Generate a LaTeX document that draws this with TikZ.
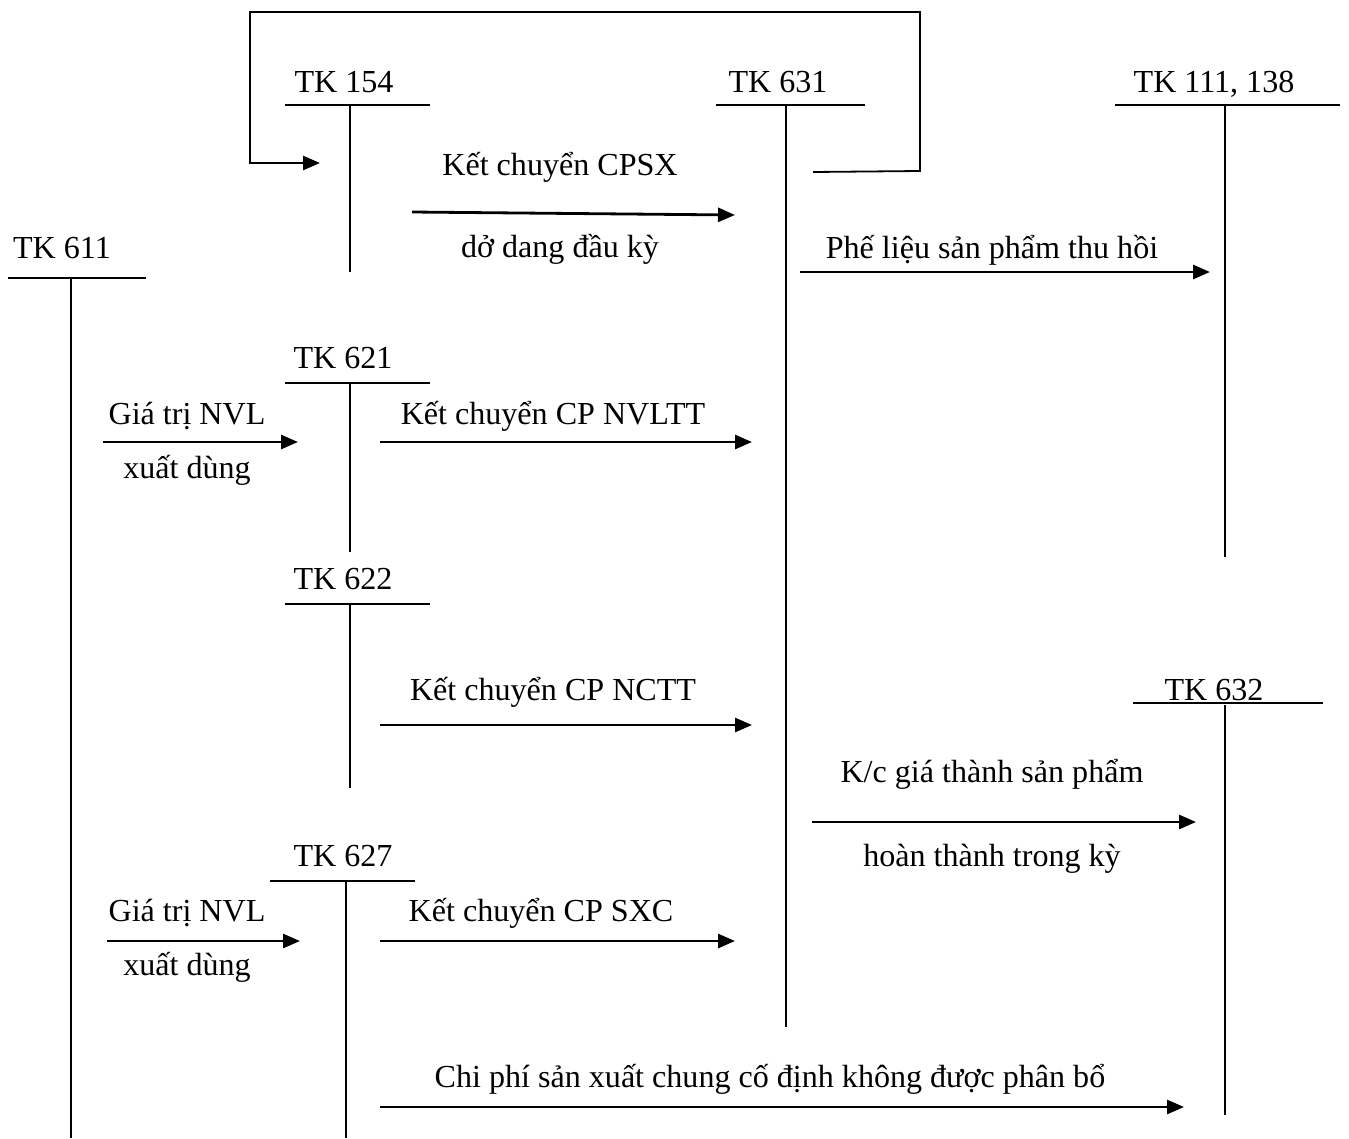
\documentclass[tikz,border=0pt]{standalone}
\usepackage{fontspec}
\setmainfont{Liberation Serif}
\usetikzlibrary{arrows.meta}
\tikzset{
  lbl/.style={anchor=base, inner sep=0pt, font=\fontsize{32.2}{38}\selectfont},
  tline/.style={line width=1.8bp},
  flow/.style={line width=2.8bp, -{Triangle[length=17bp,width=14bp]}},
}
\begin{document}
\begin{tikzpicture}[x=1bp,y=-1bp]
\useasboundingbox (0,0) rectangle (1349,1138);
% account titles
\node[lbl] (t154) at (344,92) {TK 154};
\node[lbl] (t631) at (778,92) {TK 631};
\node[lbl] (t111) at (1214,92) {TK 111, 138};
\node[lbl] (t611) at (62,258) {TK 611};
\node[lbl] (t621) at (343,368) {TK 621};
\node[lbl] (t622) at (343,589) {TK 622};
\node[lbl] (t632) at (1214,700) {TK 632};
\node[lbl] (t627) at (343,866) {TK 627};
% T-accounts
\draw[tline] (285,105) -- (430,105) (350,105) -- (350,272);
\draw[tline] (716,105) -- (865,105) (786,105) -- (786,1027);
\draw[tline] (1115,105) -- (1340,105) (1225,105) -- (1225,557);
\draw[tline] (8,278) -- (146,278) (71,278) -- (71,1138);
\draw[tline] (285,383) -- (430,383) (350,383) -- (350,552);
\draw[tline] (285,604) -- (430,604) (350,604) -- (350,788);
\draw[tline] (270,881) -- (415,881) (346,881) -- (346,1138);
\draw[tline] (1133,703) -- (1323,703) (1225,705) -- (1225,1115);
% loop from 631 back to 154
\coordinate (lpA) at (813,172);
\coordinate (lpB) at (320,163);
\draw[tline] (lpA) -- (920,171) -- (920,12) -- (250,12) -- (250,163);
\draw[flow] (249.1,163) -- (lpB);
% flows
\coordinate (a1s) at (412,212); \coordinate (a1e) at (735,215);
\draw[flow] (a1s) -- (a1e);
\node[lbl] (l1a) at (560,175) {Kết chuyển CPSX};
\node[lbl] (l1b) at (560,257) {dở dang đầu kỳ};

\coordinate (a2s) at (800,272); \coordinate (a2e) at (1210,272);
\draw[flow] (a2s) -- (a2e);
\node[lbl] (l2) at (992,258) {Phế liệu sản phẩm thu hồi};

\coordinate (a3s) at (103,442); \coordinate (a3e) at (298,442);
\draw[flow] (a3s) -- (a3e);
\node[lbl] (l3a) at (187,424) {Giá trị NVL};
\node[lbl] (l3b) at (187,478) {xuất dùng};

\coordinate (a4s) at (380,442); \coordinate (a4e) at (752,442);
\draw[flow] (a4s) -- (a4e);
\node[lbl] (l4) at (553,424) {Kết chuyển CP NVLTT};

\coordinate (a5s) at (380,725); \coordinate (a5e) at (752,725);
\draw[flow] (a5s) -- (a5e);
\node[lbl] (l5) at (553,700) {Kết chuyển CP NCTT};

\coordinate (a6s) at (812,822); \coordinate (a6e) at (1196,822);
\draw[flow] (a6s) -- (a6e);
\node[lbl] (l6a) at (992,782) {K/c giá thành sản phẩm};
\node[lbl] (l6b) at (992,866) {hoàn thành trong kỳ};

\coordinate (a7s) at (107,941); \coordinate (a7e) at (300,941);
\draw[flow] (a7s) -- (a7e);
\node[lbl] (l7a) at (187,921) {Giá trị NVL};
\node[lbl] (l7b) at (187,975) {xuất dùng};

\coordinate (a8s) at (380,941); \coordinate (a8e) at (735,941);
\draw[flow] (a8s) -- (a8e);
\node[lbl] (l8) at (541,921) {Kết chuyển CP SXC};

\coordinate (a9s) at (380,1107); \coordinate (a9e) at (1184,1107);
\draw[flow] (a9s) -- (a9e);
\node[lbl] (l9) at (770,1087) {Chi phí sản xuất chung cố định không được phân bổ};
\end{tikzpicture}
\end{document}
